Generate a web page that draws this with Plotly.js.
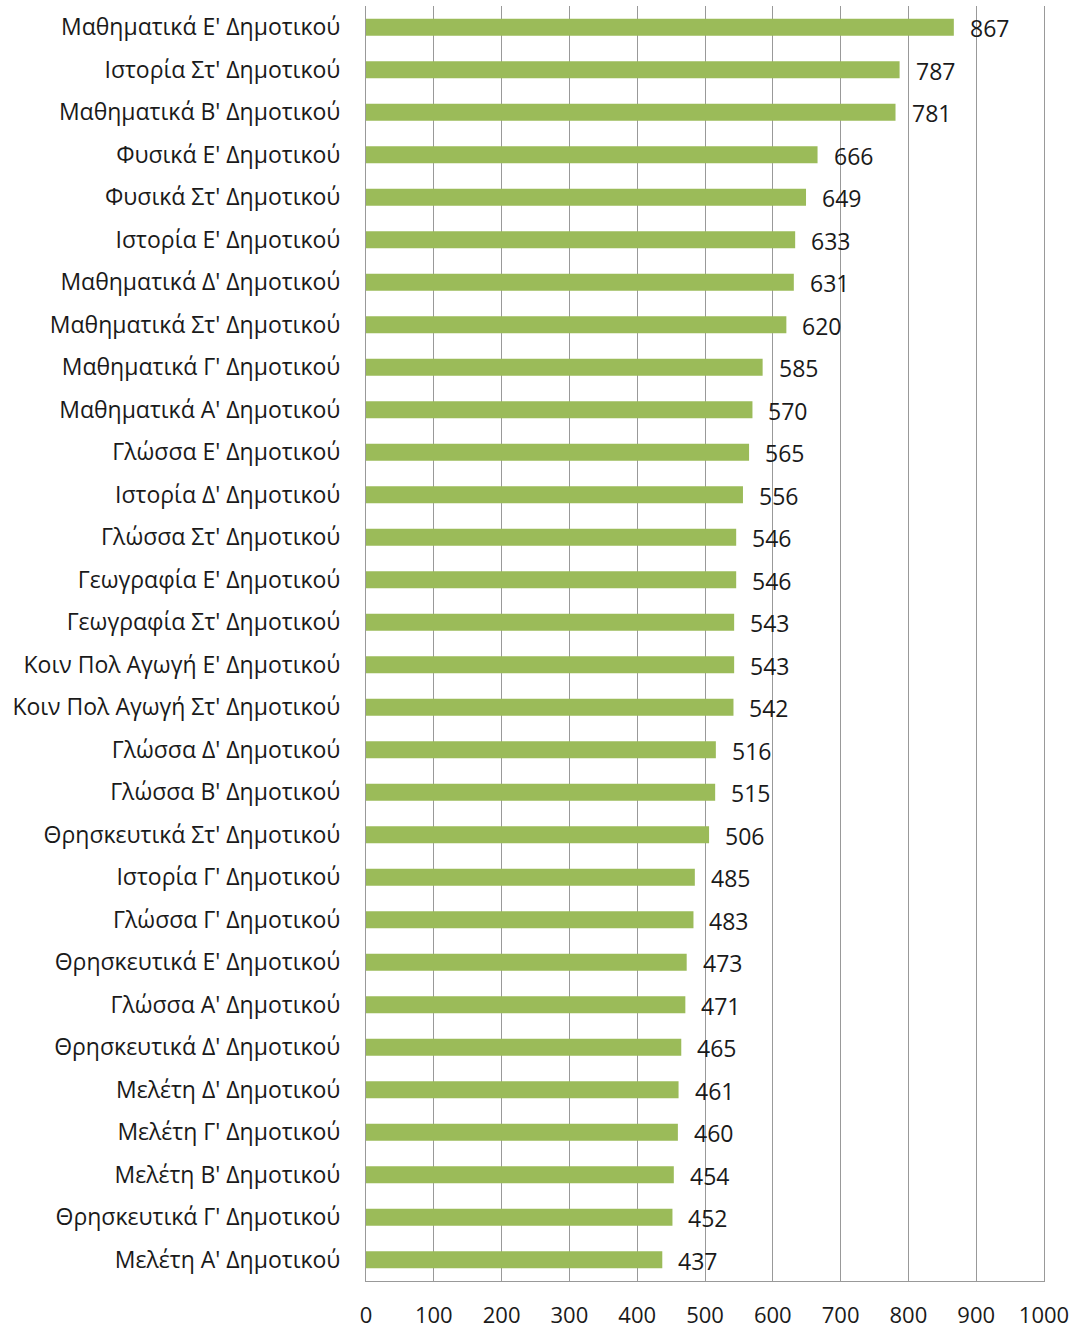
<!DOCTYPE html>
<html><head><meta charset="utf-8">
<script src="https://cdn.plot.ly/plotly-3.0.1.min.js"></script>
<style>html,body{margin:0;padding:0;background:#fff}#chart{width:1078px;height:1328px}</style>
</head><body><div id="chart"></div>
<script>
const categories = [
"Μαθηματικά Ε' Δημοτικού","Ιστορία Στ' Δημοτικού","Μαθηματικά Β' Δημοτικού","Φυσικά Ε' Δημοτικού",
"Φυσικά Στ' Δημοτικού","Ιστορία Ε' Δημοτικού","Μαθηματικά Δ' Δημοτικού","Μαθηματικά Στ' Δημοτικού",
"Μαθηματικά Γ' Δημοτικού","Μαθηματικά Α' Δημοτικού","Γλώσσα Ε' Δημοτικού","Ιστορία Δ' Δημοτικού",
"Γλώσσα Στ' Δημοτικού","Γεωγραφία Ε' Δημοτικού","Γεωγραφία Στ' Δημοτικού","Κοιν Πολ Αγωγή Ε' Δημοτικού",
"Κοιν Πολ Αγωγή Στ' Δημοτικού","Γλώσσα Δ' Δημοτικού","Γλώσσα Β' Δημοτικού","Θρησκευτικά Στ' Δημοτικού",
"Ιστορία Γ' Δημοτικού","Γλώσσα Γ' Δημοτικού","Θρησκευτικά Ε' Δημοτικού","Γλώσσα Α' Δημοτικού",
"Θρησκευτικά Δ' Δημοτικού","Μελέτη Δ' Δημοτικού","Μελέτη Γ' Δημοτικού","Μελέτη Β' Δημοτικού",
"Θρησκευτικά Γ' Δημοτικού","Μελέτη Α' Δημοτικού"];
const values = [867,787,781,666,649,633,631,620,585,570,565,556,546,546,543,543,542,516,515,506,485,483,473,471,465,461,460,454,452,437];
const xTicks = [0,100,200,300,400,500,600,700,800,900,1000];

const FONT = "Open Sans, Noto Sans, sans-serif";
const annotations = values.map((v,i)=>({
  x: v, y: categories[i], xref:'x', yref:'y', text: String(v),
  showarrow:false, xanchor:'left', yanchor:'middle', xshift:14, yshift:-1,
  font:{family:FONT,size:23,color:'#1a1a1a'}
}));

Plotly.newPlot('chart',[{
  type:'bar', orientation:'h', x:values, y:categories,
  marker:{color:'#9bbb59'}, width:0.4, hoverinfo:'x+y'
}],{
  width:1078, height:1328,
  margin:{l:366,r:34,t:6,b:47},
  paper_bgcolor:'#fff', plot_bgcolor:'#fff',
  showlegend:false,
  font:{family:FONT,size:23,color:'#1a1a1a'},
  xaxis:{range:[0,1000], tickvals:xTicks, showgrid:true, gridcolor:'#999999', gridwidth:1,
    zeroline:false, showline:true, linecolor:'#999999', linewidth:1, mirror:false,
    ticks:'', ticklabelstandoff:15, tickfont:{family:FONT,size:22,color:'#1a1a1a'}, fixedrange:true},
  yaxis:{autorange:'reversed', showgrid:false, zeroline:false, showline:true, mirror:true, linecolor:'#999999', linewidth:1,
    ticks:'', ticklabelstandoff:20, tickfont:{family:FONT,size:23,color:'#1a1a1a'}, fixedrange:true},
  annotations: annotations
},{displayModeBar:false, staticPlot:true});
</script></body></html>
